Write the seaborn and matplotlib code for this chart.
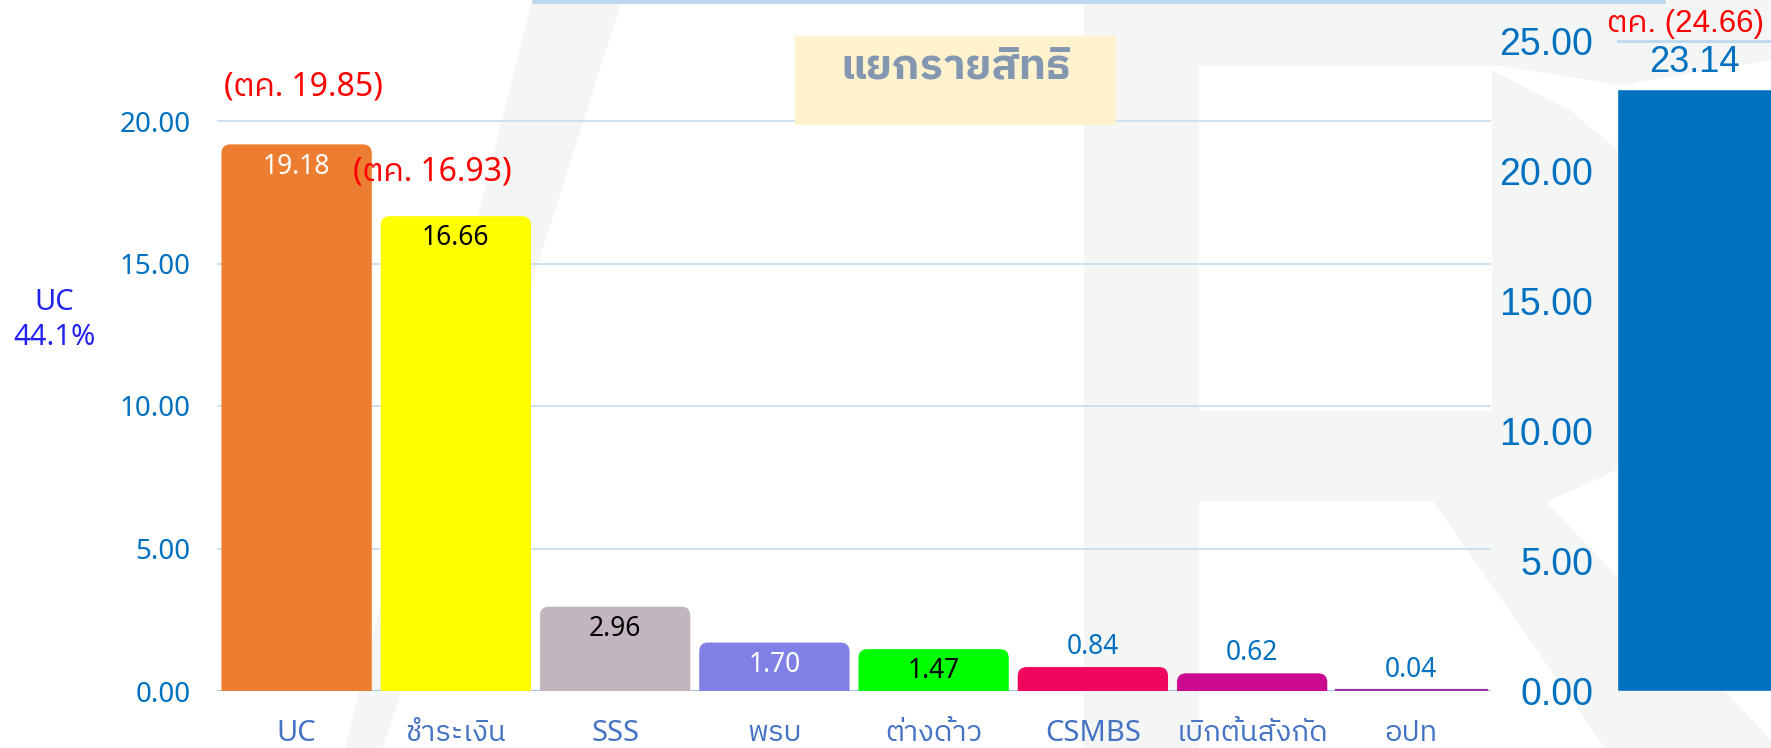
import matplotlib
matplotlib.use("Agg")
import matplotlib.pyplot as plt
import seaborn as sns
import numpy as np
import pandas as pd
from matplotlib import font_manager as fm
from matplotlib.ft2font import FT2Font
from matplotlib.patches import FancyBboxPatch, Rectangle, Polygon
from matplotlib.lines import Line2D

# ---------------- data ----------------
categories = ["UC", "ชำระเงิน", "SSS", "พรบ", "ต่างด้าว", "CSMBS", "เบิกต้นสังกัด", "อปท"]
values = [19.18, 16.66, 2.96, 1.70, 1.47, 0.84, 0.62, 0.04]
bar_colors = ["#ED7D31", "#FFFF00", "#C2B5BF", "#8080E6", "#00FF00", "#F2055F", "#CC0A8F", "#9B33A8"]
value_label_colors = ["white", "black", "black", "white", "black", "#0070C0", "#0070C0", "#0070C0"]
value_label_inside = [True, True, True, True, True, False, False, False]
oct_notes = ["(ตค. 19.85)", "(ตค. 16.93)"]
left_ticks = [0, 5, 10, 15, 20]
left_tick_labels = ["0.00", "5.00", "10.00", "15.00", "20.00"]

total_category = ["รวม"]
total_values = [23.14]
total_oct_note = "ตค. (24.66)"
right_ticks = [0, 5, 10, 15, 20, 25]
right_tick_labels = ["0.00", "5.00", "10.00", "15.00", "20.00", "25.00"]

title_text = "แยกรายสิทธิ"
side_note = "UC\n44.1%"

# ---------------- fonts ----------------
def find_thai_font():
    cands = []
    for f in fm.fontManager.ttflist:
        try:
            cmap = FT2Font(f.fname).get_charmap()
        except Exception:
            continue
        if 0x0E01 in cmap and 0x0E32 in cmap and 0x0E34 in cmap:
            cands.append(f.name)
    if not cands:
        return None
    pref = [c for c in cands if "Thai" in c]
    return (pref or cands)[0]

sns.set_theme(style="white")
thai = find_thai_font()
LAT = ["Noto Sans"] + ([thai] if thai else []) + ["DejaVu Sans"]
ARIAL = ["Liberation Sans"] + ([thai] if thai else []) + ["DejaVu Sans"]
plt.rcParams["font.family"] = LAT

W, H = 1771, 748
fig = plt.figure(figsize=(W / 100, H / 100), dpi=100)
fig.patch.set_facecolor("white")

def fx(x):
    return x / W

def fy(y):
    return 1 - y / H

# ---------------- watermark ----------------
wm = "#F3F6F5"
shapes = [
    [(532, 0), (622, 0), (520, 320), (383, 748), (345, 748)],
    [(1084, 0), (1199, 0), (1199, 748), (1084, 748)],
    [(1199, 0), (1771, 0), (1771, 60), (1620, 85), (1500, 66), (1199, 66)],
    [(1492, 70), (1570, 110), (1617, 150), (1617, 470), (1540, 505), (1492, 505)],
    [(1199, 410), (1492, 410), (1492, 501), (1199, 501)],
    [(1433, 501), (1540, 495), (1771, 740), (1771, 748), (1605, 748)],
]
for s in shapes:
    fig.add_artist(Polygon([(fx(a), fy(b)) for a, b in s], closed=True,
                           transform=fig.transFigure, fc=wm, ec="none", zorder=-5))
fig.add_artist(Line2D([fx(534), fx(1664)], [fy(1.5), fy(1.5)], transform=fig.transFigure,
                      color="#BDD7EE", lw=3, zorder=-4))

# ---------------- main axes ----------------
px_per_unit = 28.5
ymax = 22
ax = fig.add_axes([fx(217), fy(691), fx(1491) - fx(217), ymax * px_per_unit / H])
ax.set_facecolor("none")
df = pd.DataFrame({"cat": categories, "val": values})
sns.barplot(data=df, x="cat", y="val", hue="cat", palette=bar_colors, legend=False,
            width=0.944, saturation=1, ax=ax, zorder=3)
ax.set_xlim(-0.5, len(categories) - 0.5)
ax.set_ylim(0, ymax)

# rounded top corners
xu = ax.get_window_extent().width / len(categories)
rx = 9 / xu
ry = 9 / px_per_unit
for p in list(ax.patches):
    x, y0 = p.get_x(), p.get_y()
    w, h = p.get_width(), p.get_height()
    if h > 0.3:
        fb = FancyBboxPatch((x, y0 - ry), w, h + ry,
                            boxstyle=f"round,pad=0,rounding_size={rx}",
                            mutation_aspect=ry / rx, fc=p.get_facecolor(), ec="none", zorder=3)
        ax.add_patch(fb)
        p.set_visible(False)
    else:
        p.set_edgecolor(p.get_facecolor())
        p.set_linewidth(1.6)

ax.set_yticks(left_ticks)
ax.set_yticklabels(left_tick_labels)
ax.tick_params(axis="y", length=0, pad=19, labelsize=20, labelcolor="#0070C0")
ax.tick_params(axis="x", length=0, pad=20, labelsize=21, labelcolor="#4472C4")
ax.set_xlabel("")
ax.set_ylabel("")
for sp in ax.spines.values():
    sp.set_visible(False)
ax.yaxis.grid(True, color="#C9DEF0", lw=1.3, zorder=0)
ax.set_axisbelow(True)
ax.axhline(0, color="#9DC3E6", lw=2, zorder=2)

for i, (v, c, inside) in enumerate(zip(values, value_label_colors, value_label_inside)):
    off = -16 if inside else 14.5
    ax.annotate(f"{v:.2f}", xy=(i, v), xytext=(0, off), textcoords="offset points",
                ha="center", va="center", fontsize=19, color=c, zorder=5)

ax.annotate(oct_notes[0], xy=(0, values[0]), xytext=(5, 41), textcoords="offset points",
            ha="center", va="center", fontsize=23, color="#FF0000", zorder=6)
ax.annotate(oct_notes[1], xy=(1, values[1]), xytext=(-17, 32), textcoords="offset points",
            ha="center", va="center", fontsize=23, color="#FF0000", zorder=6)

# ---------------- right axes ----------------
r_px = 26.0
r_top = 25.5
ax2 = fig.add_axes([fx(1617), fy(691), 160 / W, r_top * r_px / H])
ax2.set_facecolor("none")
sns.barplot(x=total_category, y=total_values, color="#0070C0", width=1.0, saturation=1,
            ax=ax2, zorder=3)
ax2.set_xlim(-0.5, 0.5)
ax2.set_ylim(0, r_top)
ax2.set_xticks([])
ax2.set_yticks(right_ticks)
ax2.set_yticklabels(right_tick_labels, family=ARIAL)
ax2.tick_params(axis="y", length=0, pad=17, labelsize=27, labelcolor="#0070C0")
ax2.set_xlabel("")
ax2.set_ylabel("")
for sp in ax2.spines.values():
    sp.set_visible(False)
ax2.yaxis.grid(True, color="#BDD7EE", lw=2, zorder=0)
ax2.set_axisbelow(True)
ax2.annotate(f"{total_values[0]:.2f}", xy=(0, total_values[0]), xytext=(-2, 19),
             textcoords="offset points", ha="center", va="center", fontsize=26,
             color="#0070C0", family=ARIAL)
ax2.annotate(total_oct_note, xy=(0, total_values[0]), xytext=(-8, 47),
             textcoords="offset points", ha="center", va="center", fontsize=22.5,
             color="#FF0000", family=ARIAL)

# ---------------- title box & side note ----------------
fig.add_artist(Rectangle((fx(795), fy(125)), fx(1116) - fx(795), (125 - 36) / H,
                         transform=fig.transFigure, fc="#FFF2CC", ec="none", zorder=5))
fig.text(fx(955), fy(69), title_text, ha="center", va="center", fontsize=31,
         fontweight="heavy", color="#8497B0", zorder=6)
fig.text(fx(54), fy(320), side_note, ha="center", va="center", fontsize=21,
         color="#2222EE", linespacing=1.25)

fig.savefig("out.png", dpi=100)
